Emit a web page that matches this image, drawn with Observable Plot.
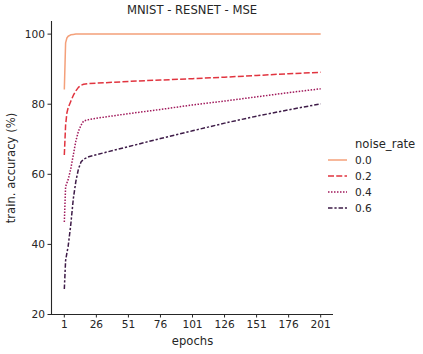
<!DOCTYPE html>
<html>
<head>
<meta charset="utf-8">
<script src="https://cdn.jsdelivr.net/npm/d3@7"></script>
<script src="https://cdn.jsdelivr.net/npm/@observablehq/plot@0.6"></script>
<style>
  html, body { margin: 0; padding: 0; background: #fff; }
  #wrap { position: relative; width: 423px; height: 354px; font-family: "DejaVu Sans", sans-serif; color: #262626; }
  #title { position: absolute; left: 51px; width: 282px; top: 3px; text-align: center; font-size: 11.6px; }
  #legend { position: absolute; left: 326px; top: 134px; }
  g[aria-label="x-axis label"] text, g[aria-label="y-axis label"] text { font-size: 11.6px; }
</style>
</head>
<body>
<div id="wrap">
  <div id="chart"></div>
  <div id="title"></div>
  <div id="legend"></div>
</div>
<script>
const title = "MNIST - RESNET - MSE";
const xLabel = "epochs";
const yLabel = "train. accuracy (%)";
const legendTitle = "noise_rate";

const epochs = [1, 2, 3, 4, 6, 8, 10, 12, 14, 16, 20, 26, 51, 76, 101, 126, 151, 176, 201];
const noiseRates = ["0.0", "0.2", "0.4", "0.6"];
const acc00 = [84.2, 97.5, 98.9, 99.4, 99.8, 99.9, 100, 100, 100, 100, 100, 100, 100, 100, 100, 100, 100, 100, 100];
const acc02 = [65.5, 74.0, 77.5, 79.0, 80.8, 82.5, 83.8, 84.8, 85.4, 85.7, 85.9, 86.0, 86.5, 86.9, 87.3, 87.7, 88.2, 88.7, 89.1];
const acc04 = [46.4, 56.5, 57.5, 58.5, 61.5, 65.5, 69.5, 72.3, 74.0, 75.2, 75.6, 76.0, 77.3, 78.5, 79.8, 80.9, 82.1, 83.3, 84.4];
const acc06 = [27.3, 35.4, 37.5, 39.5, 45.5, 53.0, 58.0, 61.5, 63.5, 64.3, 65.0, 65.6, 67.9, 70.2, 72.4, 74.6, 76.6, 78.4, 80.1];

const xTicks = [1, 26, 51, 76, 101, 126, 151, 176, 201];
const yTicks = [20, 40, 60, 80, 100];

const colors = ["#f4a07a", "#e1343f", "#a0195b", "#3d1b47"];
const dashes = ["none", "6 2.25", "1.5 1.5", "4.5 1.9 2.25 1.9"];

const series = [acc00, acc02, acc04, acc06];
const rows = [];
series.forEach((vals, i) => vals.forEach((v, j) => rows.push({epoch: epochs[j], acc: v, noise: noiseRates[i]})));

const ink = "#262626";
const chart = Plot.plot({
  width: 423,
  height: 354,
  marginLeft: 51,
  marginRight: 90,
  marginTop: 21,
  marginBottom: 40,
  style: {fontFamily: "DejaVu Sans, sans-serif", fontSize: "10.6px", color: ink, background: "#fff"},
  x: {domain: [-9, 211]},
  y: {domain: [20, 103.6]},
  color: {domain: noiseRates, range: colors},
  marks: [
    Plot.ruleY([20], {stroke: ink, strokeWidth: 1.1}),
    Plot.ruleX([-9], {stroke: ink, strokeWidth: 1.1}),
    Plot.axisX({ticks: xTicks, tickSize: 3.5, tickPadding: 2.5, label: xLabel, labelAnchor: "center", labelArrow: "none", labelOffset: 30, stroke: ink, fill: ink}),
    Plot.axisY({ticks: yTicks, tickSize: 3.5, tickPadding: 3, label: yLabel, labelAnchor: "center", labelArrow: "none", labelOffset: 45, stroke: ink, fill: ink}),
    ...noiseRates.map((n, i) => Plot.line(rows.filter(d => d.noise === n), {
      x: "epoch", y: "acc", stroke: "noise", strokeWidth: 1.5, strokeDasharray: dashes[i],
      strokeLinecap: "butt", strokeLinejoin: "round", curve: "linear"
    }))
  ]
});
document.getElementById("chart").appendChild(chart);
document.getElementById("title").textContent = title;

// legend
const lg = d3.select("#legend").append("svg").attr("width", 97).attr("height", 90)
  .style("font-family", "DejaVu Sans, sans-serif").style("font-size", "10.6px");
lg.append("text").attr("x", 29).attr("y", 14).attr("fill", ink).style("font-size", "11.6px").text(legendTitle);
noiseRates.forEach((n, i) => {
  const y = 26 + i * 16;
  lg.append("line").attr("x1", 2).attr("x2", 21).attr("y1", y).attr("y2", y)
    .attr("stroke", colors[i]).attr("stroke-width", 1.5).attr("stroke-dasharray", dashes[i]);
  lg.append("text").attr("x", 29).attr("y", y + 4).attr("fill", ink).text(n);
});
</script>
</body>
</html>
